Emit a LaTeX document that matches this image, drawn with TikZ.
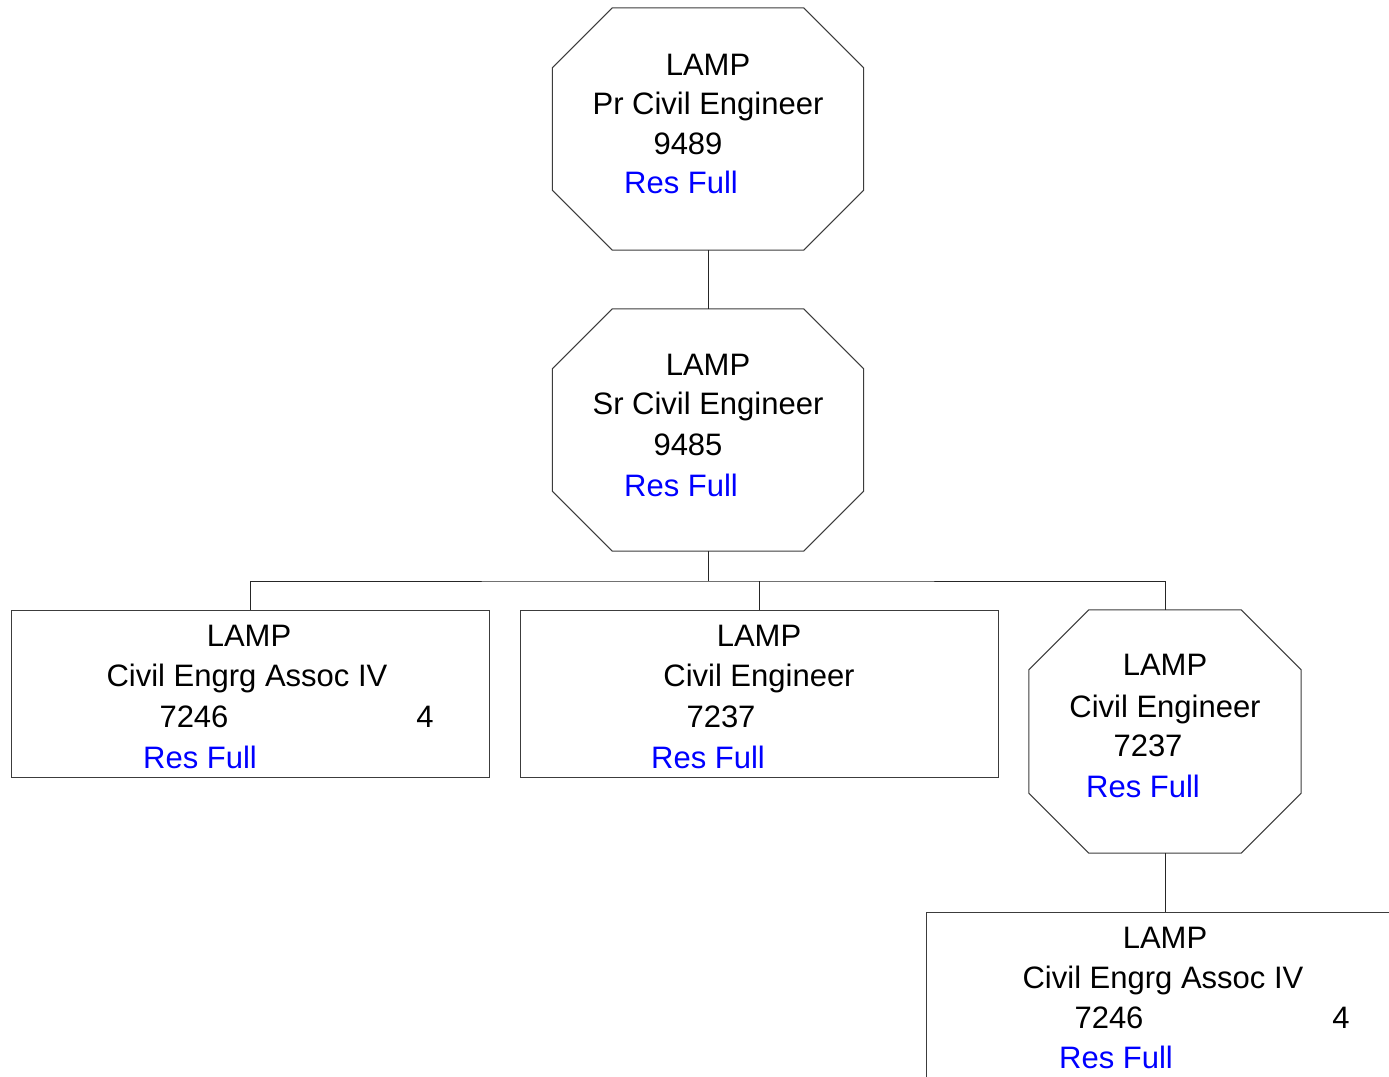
\documentclass[tikz,border=0pt]{standalone}
\usepackage{fontspec}
\setmainfont{Liberation Sans}
\usetikzlibrary{calc}
\definecolor{resblue}{RGB}{0,0,255}
\definecolor{edge}{RGB}{60,60,60}
\newcommand\octo[1]{\draw[shapeline] ([xshift=60pt]#1.north west) -- ([xshift=-60pt]#1.north east) -- ([yshift=-60pt]#1.north east) -- ([yshift=60pt]#1.south east) -- ([xshift=-60pt]#1.south east) -- ([xshift=60pt]#1.south west) -- ([yshift=60pt]#1.south west) -- ([yshift=-60pt]#1.north west) -- cycle;}
\begin{document}
\begin{tikzpicture}[x=1pt,y=-1pt,
  shapeline/.style={draw=edge,line width=1pt},
  octnode/.style={draw=none,inner sep=0pt,minimum width=311pt,minimum height=242pt},
  boxnode/.style={shapeline,inner sep=0pt,minimum width=478pt,minimum height=167pt},
  conn/.style={draw=black!85,line width=1pt},
  txt/.style={anchor=base,inner sep=0pt,font=\fontsize{31}{40}\selectfont},
  res/.style={txt,text=resblue}]
\useasboundingbox (0,0) rectangle (1389,1076);
\fill[white] (0,0) rectangle (1389,1076);
% shapes
\node[octnode] (o1) at (708,129) {};
\octo{o1}
\node[octnode] (o2) at (708,430) {};
\octo{o2}
\node[boxnode] (b1) at (250,693.5) {};
\node[boxnode] (b2) at (759,693.5) {};
\node[octnode,minimum width=272pt,minimum height=243pt] (o3) at (1165,731.5) {};
\octo{o3}
\node[shapeline,inner sep=0pt,minimum width=500pt,minimum height=200pt] (b4) at (1176,1012) {};
% connectors
\coordinate (j) at (708,581);
\draw[conn] (o1.south) -- (o2.north);
\draw[conn] (o2.south) -- (j);
\draw[conn] (b1.north) |- (j) -| (o3.north);
\draw[conn] (b2.north) -- (b2.north |- j);
\draw[conn] (o3.south) -- (o3.south |- b4.north);
% texts o1
\node[txt] (o1a) at (708,75) {LAMP};
\node[txt] (o1b) at (708,114) {Pr Civil Engineer};
\node[txt] (o1c) at (688,154) {9489};
\node[res] (o1d) at (681,193) {Res Full};
% texts o2
\node[txt] (o2a) at (708,375) {LAMP};
\node[txt] (o2b) at (708,414) {Sr Civil Engineer};
\node[txt] (o2c) at (688,455) {9485};
\node[res] (o2d) at (681,496) {Res Full};
% texts b1
\node[txt] (b1a) at (249,646) {LAMP};
\node[txt] (b1b) at (247,686) {Civil Engrg Assoc IV};
\node[txt] (b1c) at (194,727) {7246};
\node[txt] (b1d) at (425,727) {4};
\node[res] (b1e) at (200,768) {Res Full};
% texts b2
\node[txt] (b2a) at (759,646) {LAMP};
\node[txt] (b2b) at (759,686) {Civil Engineer};
\node[txt] (b2c) at (721,727) {7237};
\node[res] (b2d) at (708,768) {Res Full};
% texts o3
\node[txt] (o3a) at (1165,675) {LAMP};
\node[txt] (o3b) at (1165,717) {Civil Engineer};
\node[txt] (o3c) at (1148,756) {7237};
\node[res] (o3d) at (1143,797) {Res Full};
% texts b4
\node[txt] (b4a) at (1165,948) {LAMP};
\node[txt] (b4b) at (1163,988) {Civil Engrg Assoc IV};
\node[txt] (b4c) at (1109,1028) {7246};
\node[txt] (b4d) at (1341,1028) {4};
\node[res] (b4e) at (1116,1068) {Res Full};
\end{tikzpicture}
\end{document}
